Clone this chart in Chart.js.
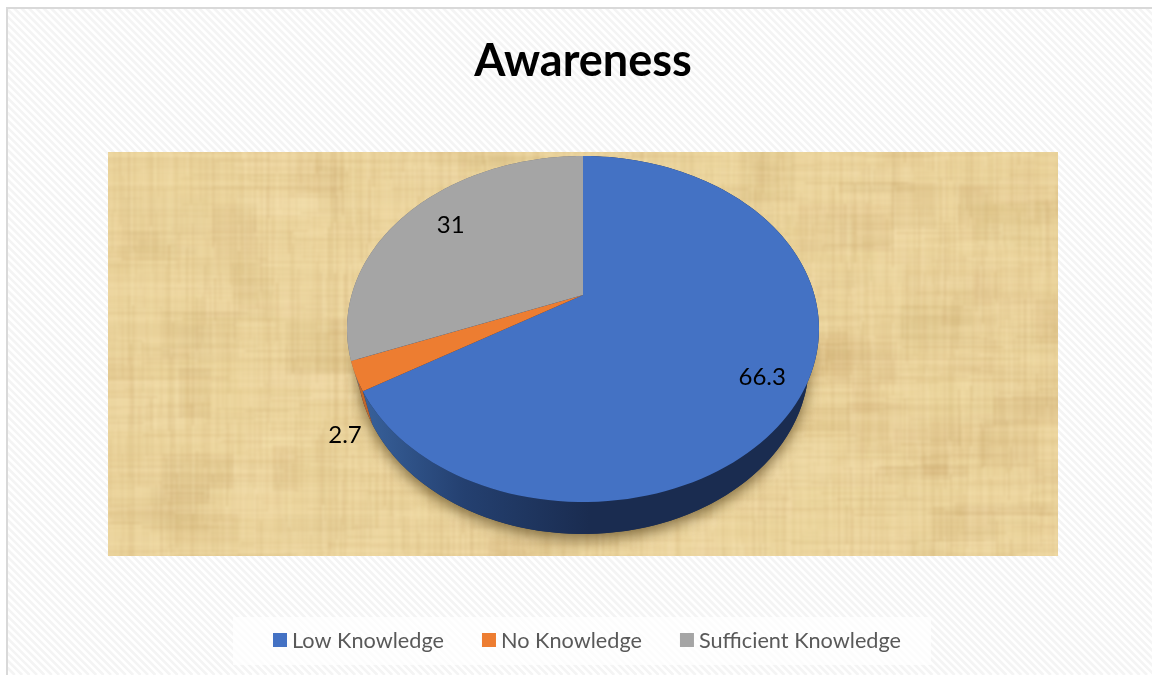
<!DOCTYPE html>
<html>
<head>
<meta charset="utf-8">
<title>Awareness</title>
<script src="https://cdn.jsdelivr.net/npm/chart.js@4"></script>
<style>
  html, body { margin: 0; padding: 0; background: #fff; }
  canvas { display: block; }
</style>
</head>
<body>
<canvas id="awarenessChart" width="1152" height="675"></canvas>
<script>
const categories = ['Low Knowledge', 'No Knowledge', 'Sufficient Knowledge'];
const awareness = [66.3, 2.7, 31];
const sliceColors = ['#4472C4', '#ED7D31', '#A5A5A5'];
const sideColors = ['#1A2C50', '#C0662A', '#6E6E6E'];

// tilted pie frame, the ellipse is what the reference shows
const top3d = { cx: 583, cy: 329, rx: 236, ry: 173, apexY: 295 };
const bottom3d = { cx: 583, cy: 362, rx: 226, ry: 172 };
const plotBox = { x: 108, y: 152, w: 950, h: 404 };
const legendBox = { x: 233, y: 617, w: 698, h: 48 };

// label offset from the slice's rim point
const labelNudges = [[-44, -8], [-11, 59], [40, 14]];

// hash for the paper grain only, no chart value comes from it
const grain = (i) => {
  const s = Math.sin(i * 127.1 + 311.7) * 43758.5453;
  return s - Math.floor(s);
};

function fibre(k, strength) {
  return k > 0.5
    ? 'rgba(252,234,190,' + (k - 0.5) * strength + ')'
    : 'rgba(196,160,100,' + (0.5 - k) * strength + ')';
}

function paperTexture(w, h) {
  const c = document.createElement('canvas');
  c.width = w; c.height = h;
  const g = c.getContext('2d');
  g.fillStyle = '#EBD49C';
  g.fillRect(0, 0, w, h);
  // soft patches
  for (let i = 0; i < 300; i++) {
    const pw = 20 + grain(i) * 80, ph = 10 + grain(i + 500) * 45;
    const x = grain(i + 1000) * w - 20, y = grain(i + 1500) * h - 10;
    g.fillStyle = fibre(grain(i + 2000), 0.34);
    g.fillRect(x, y, pw, ph);
  }
  // vertical fibres in short runs
  for (let x = 0; x < w; x += 2) {
    let y = -grain(x + 3000) * 40;
    let n = 0;
    while (y < h) {
      const len = 20 + grain(x * 7 + n + 3100) * 90;
      g.fillStyle = fibre(grain(x * 13 + n + 3300), 0.42);
      g.fillRect(x, y, 1 + Math.floor(grain(x + 3500) * 2), len);
      y += len;
      n++;
    }
  }
  // horizontal fibres in short runs
  for (let y = 0; y < h; y += 2) {
    let x = -grain(y + 4000) * 60;
    let n = 0;
    while (x < w) {
      const len = 30 + grain(y * 7 + n + 4100) * 140;
      g.fillStyle = fibre(grain(y * 13 + n + 4300), 0.34);
      g.fillRect(x, y, len, 1 + Math.floor(grain(y + 4500) * 2));
      x += len;
      n++;
    }
  }
  return c;
}

// perspective: the pie's centre sits above the ellipse centre, so rim angles shift
function rimPoint(angle, f) {
  const p = (top3d.cy - top3d.apexY) / top3d.ry;
  const q = (1 - Math.sqrt(1 - p * p)) / p;
  const zx = Math.cos(angle), zy = Math.sin(angle);
  const nx = zx, ny = zy - q;
  const dx = 1 - q * zy, dy = q * zx;
  const m = dx * dx + dy * dy;
  const u = (nx * dx + ny * dy) / m, v = (ny * dx - nx * dy) / m;
  return { u, v, x: f.cx + f.rx * u, y: f.cy + f.ry * v };
}

function ellipsePath(ctx, f) {
  ctx.beginPath();
  ctx.ellipse(f.cx, f.cy, f.rx, f.ry, 0, 0, Math.PI * 2);
}

const pagePlugin = {
  id: 'page',
  beforeDraw(chart) {
    const { ctx, width, height } = chart;
    ctx.save();
    ctx.fillStyle = '#fff';
    ctx.fillRect(0, 0, width, height);
    ctx.beginPath();
    ctx.rect(8, 9, width - 8, height - 9);
    ctx.clip();
    ctx.strokeStyle = '#F4F4F4';
    ctx.lineWidth = 2.6;
    for (let x = -height; x < width; x += 7.4) {
      ctx.beginPath();
      ctx.moveTo(x, 0);
      ctx.lineTo(x + height, height);
      ctx.stroke();
    }
    ctx.restore();

    ctx.fillStyle = '#D9D9D9';
    ctx.fillRect(6, 7, width - 6, 2);
    ctx.fillRect(6, 7, 2, height - 7);

    ctx.save();
    ctx.beginPath();
    ctx.rect(plotBox.x, plotBox.y, plotBox.w, plotBox.h);
    ctx.clip();
    ctx.filter = 'blur(0.8px)';
    ctx.drawImage(paperTexture(plotBox.w + 8, plotBox.h + 8), plotBox.x - 4, plotBox.y - 4);
    ctx.restore();

    ctx.fillStyle = 'rgba(255,255,255,0.75)';
    ctx.fillRect(legendBox.x, legendBox.y, legendBox.w, legendBox.h);
  }
};

// draws the arcs the library worked out, on a tilted pie
const tiltedPie = {
  id: 'tiltedPie',
  beforeDatasetDraw(chart, args) {
    const { ctx } = chart;
    const arcs = args.meta.data;
    const steps = 120;

    ctx.save();
    ctx.beginPath();
    ctx.rect(plotBox.x, plotBox.y, plotBox.w, plotBox.h);
    ctx.clip();

    // soft shadow under the body only
    ctx.shadowColor = 'rgba(70,50,10,0.6)';
    ctx.shadowBlur = 13;
    ctx.shadowOffsetY = 6;
    ctx.fillStyle = sideColors[0];
    ellipsePath(ctx, bottom3d);
    ctx.fill();
    ctx.shadowColor = 'transparent';
    ctx.shadowBlur = 0;
    ctx.shadowOffsetY = 0;

    // side wall
    arcs.forEach((arc, i) => {
      const a0 = arc.startAngle, a1 = arc.endAngle;
      ctx.beginPath();
      for (let k = 0; k <= steps; k++) {
        const p = rimPoint(a0 + (a1 - a0) * k / steps, top3d);
        if (k === 0) ctx.moveTo(p.x, p.y); else ctx.lineTo(p.x, p.y);
      }
      for (let k = steps; k >= 0; k--) {
        const p = rimPoint(a0 + (a1 - a0) * k / steps, top3d);
        ctx.lineTo(bottom3d.cx + bottom3d.rx * p.u, bottom3d.cy + bottom3d.ry * p.v);
      }
      ctx.closePath();
      if (i === 0) {
        const grad = ctx.createLinearGradient(362, 0, 590, 0);
        grad.addColorStop(0, '#38619B');
        grad.addColorStop(0.45, '#244070');
        grad.addColorStop(1, sideColors[0]);
        ctx.fillStyle = grad;
      } else {
        ctx.fillStyle = sideColors[i];
      }
      ctx.fill();
    });

    // top face
    arcs.forEach((arc, i) => {
      const a0 = arc.startAngle, a1 = arc.endAngle;
      ctx.beginPath();
      ctx.moveTo(top3d.cx, top3d.apexY);
      for (let k = 0; k <= steps; k++) {
        const p = rimPoint(a0 + (a1 - a0) * k / steps, top3d);
        ctx.lineTo(p.x, p.y);
      }
      ctx.closePath();
      ctx.fillStyle = sliceColors[i];
      ctx.fill();
    });

    // values
    ctx.fillStyle = '#000';
    ctx.font = '24px Lato';
    ctx.textAlign = 'center';
    ctx.textBaseline = 'middle';
    arcs.forEach((arc, i) => {
      const p = rimPoint((arc.startAngle + arc.endAngle) / 2, top3d);
      ctx.fillText(String(awareness[i]), p.x + labelNudges[i][0], p.y + labelNudges[i][1]);
    });
    ctx.restore();
    return false;
  }
};

// legend keeps the tight box-to-text gap of the reference
const legendRow = {
  id: 'legendRow',
  afterDraw(chart) {
    const { ctx } = chart;
    const boxSize = 14, textGap = 5, itemGap = 38;
    const y = 640;
    let x = 273;
    ctx.save();
    ctx.font = '21.7px Lato';
    ctx.textBaseline = 'middle';
    categories.forEach((name, i) => {
      ctx.fillStyle = sliceColors[i];
      ctx.fillRect(x, y - boxSize / 2, boxSize, boxSize);
      ctx.fillStyle = '#595959';
      ctx.fillText(name, x + boxSize + textGap, y + 1);
      x += boxSize + textGap + ctx.measureText(name).width + itemGap;
    });
    ctx.restore();
  }
};

new Chart(document.getElementById('awarenessChart'), {
  type: 'pie',
  data: {
    labels: categories,
    datasets: [{ data: awareness, backgroundColor: sliceColors, borderWidth: 0 }]
  },
  options: {
    responsive: false,
    animation: false,
    layout: { padding: { left: 14, top: 34 } },
    plugins: {
      legend: { display: false },
      tooltip: { enabled: false },
      title: {
        display: true,
        text: 'Awareness',
        color: '#000',
        font: { family: 'Lato', size: 45, weight: 'bold' },
        padding: { top: 0, bottom: 60 }
      }
    }
  },
  plugins: [pagePlugin, tiltedPie, legendRow]
});
</script>
</body>
</html>
